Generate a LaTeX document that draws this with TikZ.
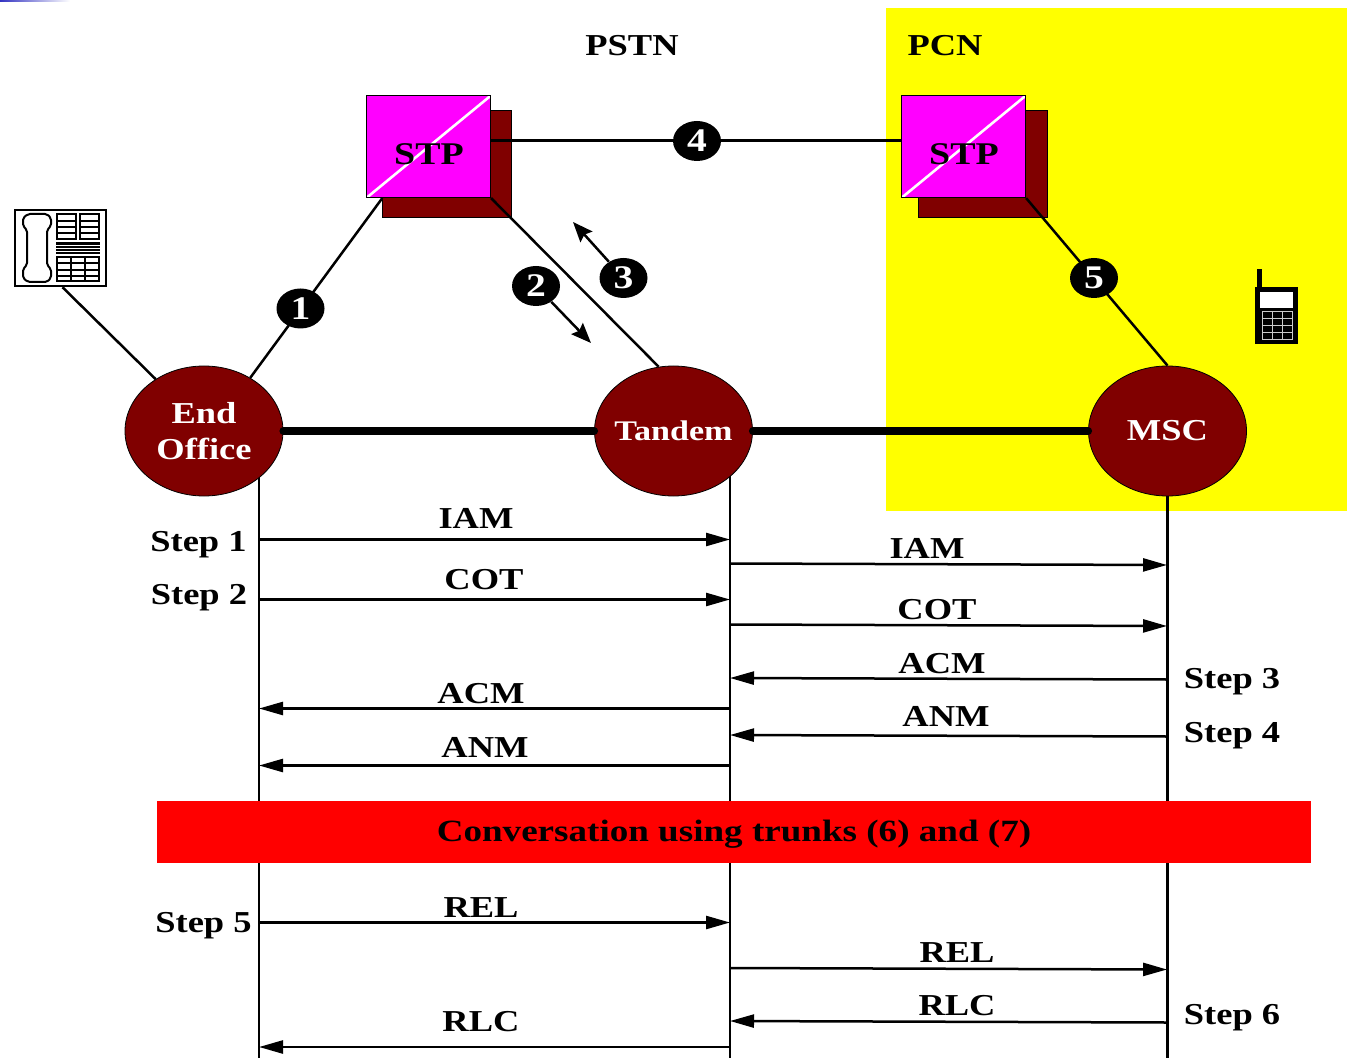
\documentclass[tikz,border=0pt]{standalone}
\usepackage{fontspec}
\setmainfont[FakeStretch=1.2]{Liberation Serif}
\usepackage{xcolor}
\usetikzlibrary{shapes,arrows.meta}
\definecolor{trunkred}{RGB}{128,0,0}
\definecolor{stpmagenta}{RGB}{255,0,255}
\definecolor{pcnyellow}{RGB}{255,255,0}
\definecolor{barred}{RGB}{255,0,0}
\tikzstyle{line} = [draw, line width=1.25pt, -{Triangle[length=12pt,width=6.5pt]}]
\tikzstyle{link} = [draw, line width=1.25pt]
\tikzstyle{trunk} = [draw, line width=4pt, line cap=round]
\tikzstyle{pointer} = [draw, line width=1.25pt, -{Stealth[length=10pt,width=8pt,inset=1.5pt]}]
\tikzstyle{office} = [ellipse, draw=black, fill=trunkred, text=white, minimum width=79pt, minimum height=65pt, inner sep=-10pt, align=center, font=\fontsize{15.2}{18}\selectfont\bfseries]
\tikzstyle{shadowbox} = [rectangle, fill=trunkred, draw=black, line width=0.3pt, minimum width=64.5pt, minimum height=53.5pt, inner sep=0pt]
\tikzstyle{stp} = [rectangle, fill=stpmagenta, draw=black, line width=0.4pt, minimum width=62pt, minimum height=51pt, inner sep=0pt, path picture={\draw[white, line width=1.3pt] (path picture bounding box.south west) -- (path picture bounding box.north east);}]
\tikzstyle{badge} = [ellipse, fill=black, text=white, minimum width=24pt, minimum height=20pt, inner sep=0pt, font=\fontsize{16.5}{16.5}\selectfont\bfseries]
\tikzstyle{msg} = [font=\fontsize{15.2}{15}\selectfont\bfseries, inner sep=0pt]

\begin{document}
\begin{tikzpicture}[x=0.5pt, y=-0.5pt]
    \useasboundingbox (0,0) rectangle (1347,1058);
    % slide corner and the two network areas
    \shade [left color=blue!70!black!80, right color=white] (0,0) rectangle (70,2);
    \fill [pcnyellow] (886,8) rectangle (1347,511);
    \node [msg] (pstn) at (632,46) {PSTN};
    \node [msg] (pcn) at (945,46) {PCN};

    % lifelines
    \coordinate (lifeA) at (259,470);
    \coordinate (lifeB) at (730,470);
    \coordinate (lifeC) at (1167.5,490);
    \coordinate (endA) at (259,1058);
    \coordinate (endB) at (730,1058);
    \coordinate (endC) at (1167.5,1058);
    \draw [line width=1.25pt] (lifeA) -- (endA);
    \draw [line width=1.25pt] (lifeB) -- (endB);
    \draw [line width=1.25pt] (lifeC) -- (endC);

    % signalling points
    \node [shadowbox] (shadowA) at (447,163.5) {};
    \node [stp] (stpA) at (428.7,146.7) {};
    \node [msg, font=\fontsize{15.8}{15}\selectfont\bfseries] (stpTextA) at (429,154) {STP};
    \node [shadowbox] (shadowB) at (982.5,163.5) {};
    \node [stp] (stpB) at (963.7,146.7) {};
    \node [msg, font=\fontsize{15.8}{15}\selectfont\bfseries] (stpTextB) at (964,154) {STP};

    % switches
    \node [office] (endOffice) at (204,431) {End\\Office};
    \node [office, font=\fontsize{14.2}{18}\selectfont\bfseries] (tandem) at (673.5,431) {Tandem};
    \node [office] (msc) at (1167.5,431) {MSC};

    % phone
    \node [rectangle, draw=black, line width=1.25pt, minimum width=45.5pt, minimum height=38pt, inner sep=0pt] (phone) at (60.5,248) {};
    \draw [line width=1pt, rounded corners=1pt] (28,214) -- (47,214) -- (51,218) -- (51,226) -- (47,230) -- (47,265) -- (51,269) -- (51,278) -- (47,282) -- (28,282) -- (23,278) -- (23,269) -- (27,265) -- (27,230) -- (23,226) -- (23,218) -- cycle;
    \draw [line width=0.9pt] (57,214) rectangle (76,239);
    \draw [line width=0.9pt] (80,214) rectangle (99,239);
    \foreach \y in {221,227,233} {
        \draw [line width=0.8pt] (57,\y) -- (76,\y);
        \draw [line width=0.8pt] (80,\y) -- (99,\y);
    }
    \fill [black] (56,242) rectangle (100,254);
    \foreach \y in {245,248,251}
        \draw [white, line width=0.2pt] (56,\y) -- (100,\y);
    \draw [line width=0.9pt] (57,257) rectangle (99,281);
    \foreach \y in {263,270,276}
        \draw [line width=0.8pt] (57,\y) -- (99,\y);
    \foreach \x in {71,85}
        \draw [line width=0.8pt] (\x,257) -- (\x,281);

    % handset
    \fill [black] (1257,269) rectangle (1262,288);
    \fill [black] (1255,287) rectangle (1298,344);
    \fill [white] (1260,292) rectangle (1293,308);
    \draw [gray!40, line width=0.5pt] (1262,312) rectangle (1292,340);
    \foreach \x in {1272,1282}
        \draw [gray!40, line width=0.5pt] (\x,312) -- (\x,340);
    \foreach \y in {319,326,333}
        \draw [gray!40, line width=0.5pt] (1262,\y) -- (1292,\y);

    % links
    \path [link] (phone.south) ++(1pt,0) -- (endOffice.133);
    \path [link] (endOffice.49) -- ([xshift=8pt]stpA.south west);
    \path [link] (stpA.south east) -- (tandem.103);
    \path [link] ([yshift=3pt]stpA.east) -- ([yshift=3pt]stpB.west);
    \path [link] (stpB.south east) -- (msc.north);
    \path [trunk] (endOffice.east) -- (tandem.west);
    \path [trunk] (tandem.east) -- (msc.west);

    % numbered links
    \node [badge] (one) at (300.5,308.5) {1};
    \node [badge] (two) at (536,286) {2};
    \node [badge] (three) at (623.5,278) {3};
    \node [badge] (four) at (697,141) {4};
    \node [badge] (five) at (1094,278) {5};
    \coordinate (twoTip) at (591,343);
    \coordinate (threeTip) at (573,222);
    \path [pointer] (two) -- (twoTip);
    \path [pointer] (three) -- (threeTip);

    % messages
    \coordinate (a1) at (259,539.5);  \coordinate (b1) at (730,539.5);
    \coordinate (b2) at (730,563.5);  \coordinate (c2) at (1167,565);
    \coordinate (a3) at (259,599.5);  \coordinate (b3) at (730,599.5);
    \coordinate (b4) at (730,624.5);  \coordinate (c4) at (1167,626);
    \coordinate (c5) at (1167,679.5); \coordinate (b5) at (730,678);
    \coordinate (b6) at (730,708.5);  \coordinate (a6) at (259,708.5);
    \coordinate (c7) at (1167,736.5); \coordinate (b7) at (730,735);
    \coordinate (b8) at (730,765.5);  \coordinate (a8) at (259,765.5);
    \coordinate (a9) at (259,922.5);  \coordinate (b9) at (730,922.5);
    \coordinate (b10) at (730,968); \coordinate (c10) at (1167,969.5);
    \coordinate (c11) at (1167,1022.5); \coordinate (b11) at (730,1021);
    \coordinate (b12) at (730,1047); \coordinate (a12) at (259,1047);
    \path [line] (a1) -- (b1);
    \path [line] (b2) -- (c2);
    \path [line] (a3) -- (b3);
    \path [line] (b4) -- (c4);
    \path [line] (c5) -- (b5);
    \path [line] (b6) -- (a6);
    \path [line] (c7) -- (b7);
    \path [line] (b8) -- (a8);
    \path [line] (a9) -- (b9);
    \path [line] (b10) -- (c10);
    \path [line] (c11) -- (b11);
    \path [line] (b12) -- (a12);
    \node [msg] (iamA) at (476,518) {IAM};
    \node [msg] (iamB) at (927,548) {IAM};
    \node [msg] (cotA) at (484,580) {COT};
    \node [msg] (cotB) at (937,610) {COT};
    \node [msg] (acmB) at (942,664) {ACM};
    \node [msg] (acmA) at (481,694) {ACM};
    \node [msg] (anmB) at (946,716) {ANM};
    \node [msg] (anmA) at (485,747) {ANM};
    \node [msg] (relA) at (481,908) {REL};
    \node [msg] (relB) at (957,953) {REL};
    \node [msg] (rlcB) at (957,1006) {RLC};
    \node [msg] (rlcA) at (481,1022) {RLC};

    % steps
    \node [msg] (stepOne) at (198.5,545) {Step 1};
    \node [msg] (stepTwo) at (199,598) {Step 2};
    \node [msg] (stepThree) at (1232,682) {Step 3};
    \node [msg] (stepFour) at (1232,736) {Step 4};
    \node [msg] (stepFive) at (203.5,926) {Step 5};
    \node [msg] (stepSix) at (1232,1018) {Step 6};

    % conversation bar
    \node [rectangle, fill=barred, minimum width=577pt, minimum height=31pt, inner sep=0pt] (conversation) at (734,832) {};
    \node [msg, font=\fontsize{15.45}{15}\selectfont\bfseries] (conversationText) at (734,834) {Conversation using trunks (6) and (7)};
\end{tikzpicture}
\end{document}
